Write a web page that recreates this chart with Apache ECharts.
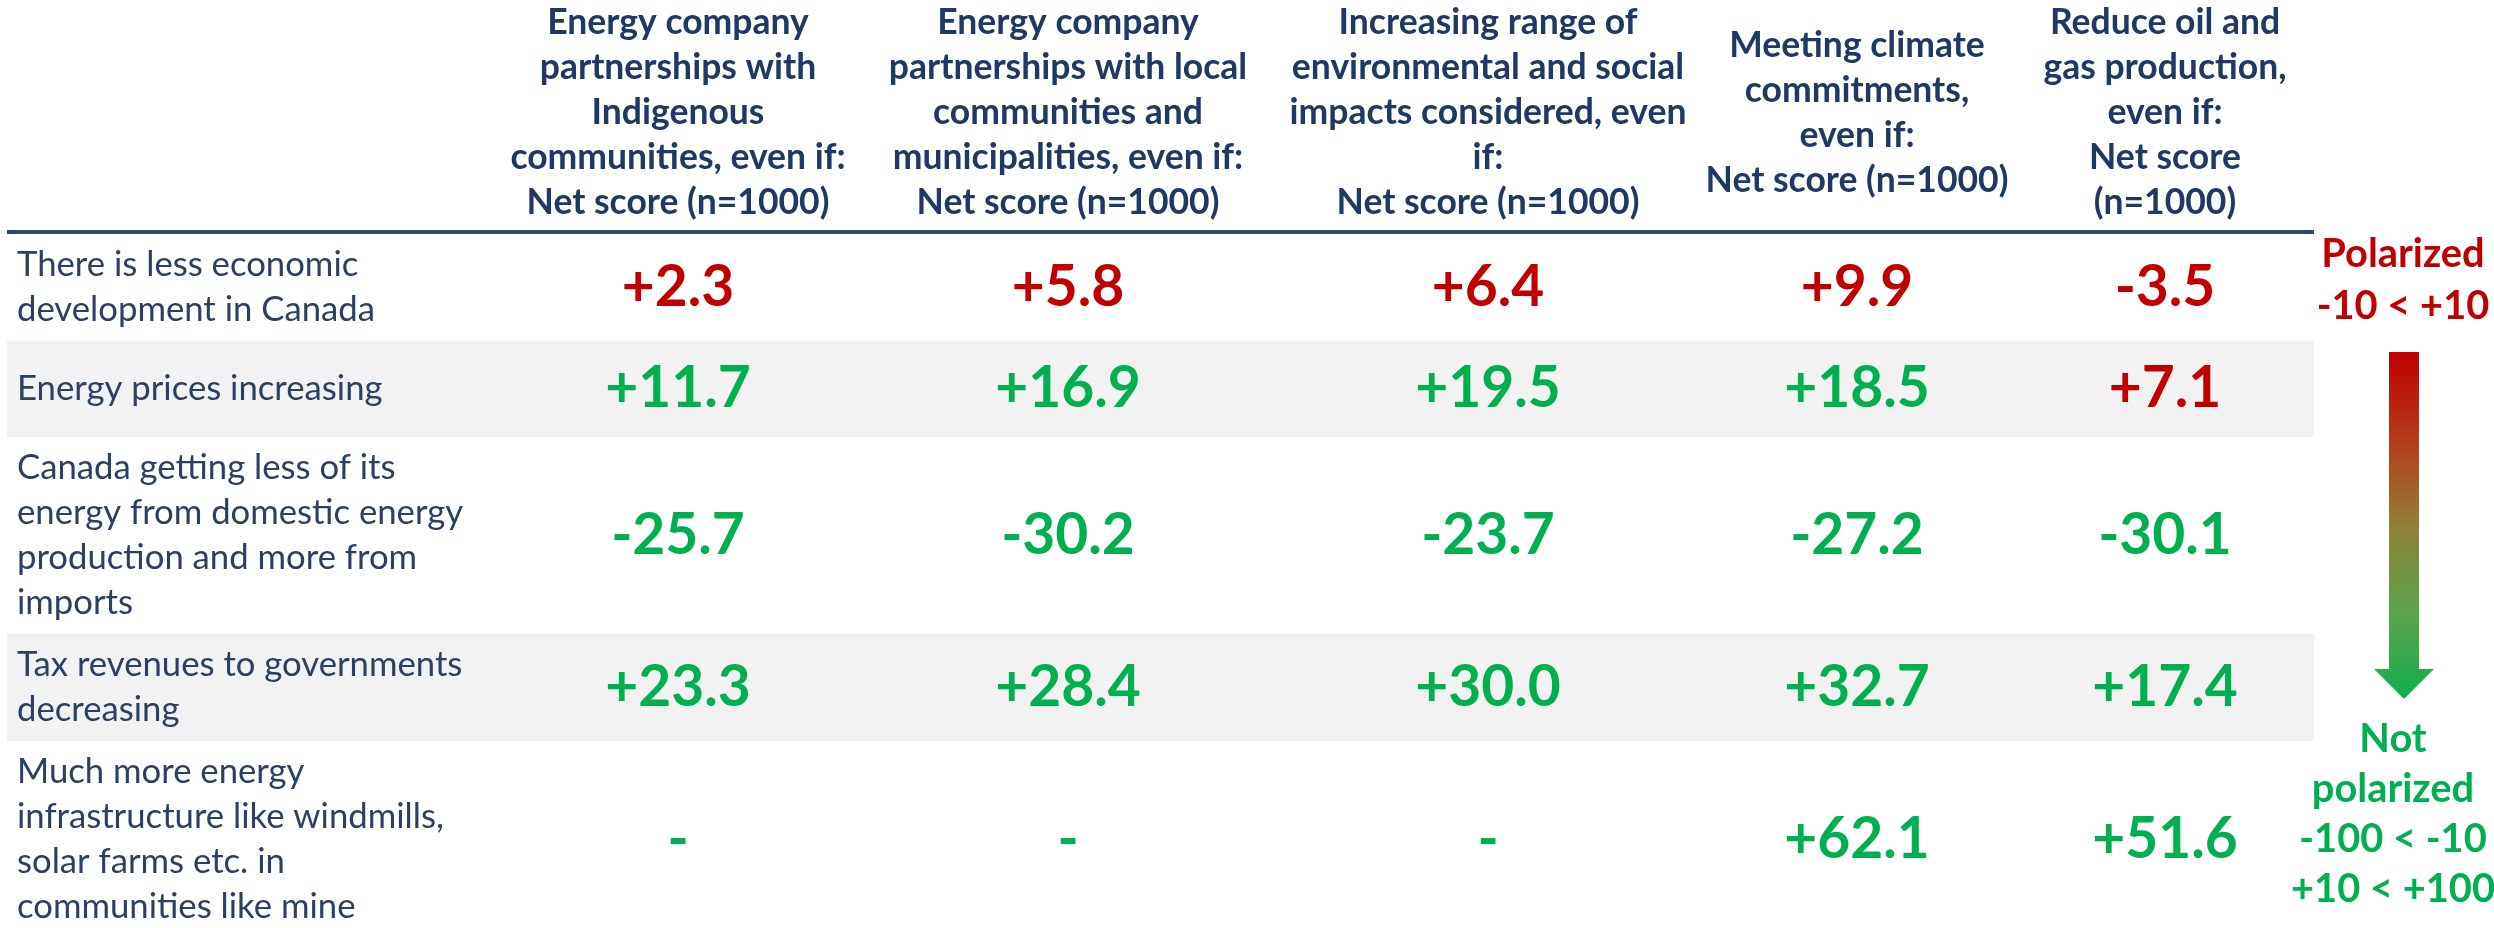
<!DOCTYPE html>
<html>
<head>
<meta charset="utf-8">
<script src="https://cdn.jsdelivr.net/npm/echarts@6/dist/echarts.min.js"></script>
<style>
html,body{margin:0;padding:0;background:#ffffff;}
#chart{width:2494px;height:928px;}
</style>
</head>
<body>
<div id="chart"></div>
<script>
// ---------------- DATA ----------------
const columnHeaders = [
  'Energy company\npartnerships with\nIndigenous\ncommunities, even if:\nNet score (n=1000)',
  'Energy company\npartnerships with local\ncommunities and\nmunicipalities, even if:\nNet score (n=1000)',
  'Increasing range of\nenvironmental and social\nimpacts considered, even\nif:\nNet score (n=1000)',
  'Meeting climate\ncommitments,\neven if:\nNet score (n=1000)',
  'Reduce oil and\ngas production,\neven if:\nNet score\n(n=1000)'
];
const rowLabels = [
  'There is less economic\ndevelopment in Canada',
  'Energy prices increasing',
  'Canada getting less of its\nenergy from domestic energy\nproduction and more from\nimports',
  'Tax revenues to governments\ndecreasing',
  'Much more energy\ninfrastructure like windmills,\nsolar farms etc. in\ncommunities like mine'
];
const indigenousPartnerships = [2.3, 11.7, -25.7, 23.3, null];
const localPartnerships      = [5.8, 16.9, -30.2, 28.4, null];
const environmentalImpacts   = [6.4, 19.5, -23.7, 30.0, null];
const climateCommitments     = [9.9, 18.5, -27.2, 32.7, 62.1];
const reduceOilGas           = [-3.5, 7.1, -30.1, 17.4, 51.6];
const columnValues = [indigenousPartnerships, localPartnerships, environmentalImpacts, climateCommitments, reduceOilGas];
const polarizedLimit = 10;
const legendPolarized = ['Polarized', '-10 < +10'];
const legendNotPolarized = ['Not', 'polarized', '-100 < -10', '+10 < +100'];

// ---------------- LAYOUT / STYLE ----------------
const FONT = 'Lato, "Open Sans", sans-serif';
const RED = '#C00000', GREEN = '#00B050', GRAY = '#F2F2F2';
const HEADER_COLOR = '#1F3864', LABEL_COLOR = '#2B4062', RULE_COLOR = '#2D4A6C';
const colWidths = [491, 360, 420, 420, 318, 298];
const tableLeft = 7;
const headerHeight = 230;
const ruleHeight = 4;
const lineH = 45;
const rowPad = 17;
const minRowHeight = 96;
const canvasH = 928;

// fit font sizes to the measured text widths of the reference
const mctx = document.createElement('canvas').getContext('2d');
function inkWidth(weight, size, text) {
  mctx.font = weight + ' ' + size + 'px ' + FONT;
  const m = mctx.measureText(text);
  if (m.actualBoundingBoxRight !== undefined) return m.actualBoundingBoxLeft + m.actualBoundingBoxRight;
  return m.width;
}
function fitSize(weight, text, target, fallback) {
  const w = inkWidth(weight, 100, text);
  if (!w || !isFinite(w)) return fallback;
  return Math.round(100 * target / w * 10) / 10;
}
const labelSize  = fitSize('normal', 'There is less economic', 340, 35);
const headerSize = fitSize('bold', 'environmental and social', 389, 35);
const valueSize  = Math.min(58, fitSize('bold', '+2.3', 108, 55));
const legendSize = fitSize('bold', 'Polarized', 158, 37);

const tableWidth = colWidths.reduce((a, b) => a + b, 0);
const colEdges = [0];
colWidths.forEach(w => colEdges.push(colEdges[colEdges.length - 1] + w));
const rowEdges = [headerHeight + ruleHeight];
rowLabels.forEach(l => {
  const n = l.split('\n').length;
  rowEdges.push(rowEdges[rowEdges.length - 1] + Math.max(n * lineH + rowPad, minRowHeight));
});

function fmt(v) {
  if (v === null || v === undefined) return '-';
  return (v > 0 ? '+' : '') + v.toFixed(1);
}
function valColor(v) {
  if (v === null || v === undefined) return GREEN;
  return Math.abs(v) < polarizedLimit ? RED : GREEN;
}

const chart = echarts.init(document.getElementById('chart'), null, {renderer: 'canvas'});

const series = [];

// rows: backgrounds, labels, header rule
series.push({
  type: 'custom',
  name: 'rows',
  clip: false,
  silent: true,
  data: rowLabels.map((l, i) => [0, i]),
  renderItem: function (params, api) {
    const i = params.dataIndex;
    const top = rowEdges[i], bot = rowEdges[i + 1];
    const p0 = api.coord([0, top]);
    const p1 = api.coord([tableWidth, bot]);
    const children = [];
    if (i % 2 === 1) {
      children.push({type: 'rect', shape: {x: p0[0], y: p0[1], width: p1[0] - p0[0], height: p1[1] - p0[1]}, style: {fill: GRAY}});
    }
    if (i === 0) {
      const r0 = api.coord([0, headerHeight]);
      const r1 = api.coord([tableWidth, headerHeight + ruleHeight]);
      children.push({type: 'rect', shape: {x: r0[0], y: r0[1], width: r1[0] - r0[0], height: r1[1] - r0[1]}, style: {fill: RULE_COLOR}});
    }
    const t = api.coord([10, (top + bot) / 2]);
    children.push({type: 'text', x: t[0], y: t[1], style: {text: rowLabels[i], fill: LABEL_COLOR, font: labelSize + 'px ' + FONT, align: 'left', verticalAlign: 'middle', lineHeight: lineH}});
    return {type: 'group', children: children};
  }
});

// headers
series.push({
  type: 'custom',
  name: 'headers',
  clip: false,
  silent: true,
  data: columnHeaders.map((h, j) => [j, 0]),
  renderItem: function (params, api) {
    const j = params.dataIndex;
    const cx = colEdges[j + 1] + colWidths[j + 1] / 2;
    const p = api.coord([cx, headerHeight / 2 - 2]);
    return {type: 'text', x: p[0], y: p[1], style: {text: columnHeaders[j], fill: HEADER_COLOR, font: 'bold ' + headerSize + 'px ' + FONT, align: 'center', verticalAlign: 'middle', lineHeight: lineH}};
  }
});

// values, one series per column
columnValues.forEach((vals, j) => {
  series.push({
    type: 'custom',
    name: columnHeaders[j],
    clip: false,
    silent: true,
    data: vals.map((v, i) => [j, i]),
    renderItem: function (params, api) {
      const i = params.dataIndex;
      const v = vals[i];
      const cx = colEdges[j + 1] + colWidths[j + 1] / 2;
      const cy = (rowEdges[i] + rowEdges[i + 1]) / 2;
      const p = api.coord([cx, cy]);
      return {type: 'text', x: p[0], y: p[1], style: {text: fmt(v), fill: valColor(v), font: 'bold ' + valueSize + 'px ' + FONT, align: 'center', verticalAlign: 'middle'}};
    }
  });
});

const option = {
  animation: false,
  grid: {left: tableLeft, top: 0, width: tableWidth, height: canvasH, containLabel: false},
  xAxis: {type: 'value', min: 0, max: tableWidth, show: false},
  yAxis: {type: 'value', min: 0, max: canvasH, inverse: true, show: false},
  series: series,
  graphic: [
    {type: 'text', x: 2403, y: 280, style: {text: legendPolarized.join('\n'), fill: RED, font: 'bold ' + legendSize + 'px ' + FONT, align: 'center', verticalAlign: 'middle', lineHeight: 52}},
    {type: 'polygon',
     shape: {points: [[2389, 352], [2419, 352], [2419, 669], [2434, 669], [2404, 699], [2374, 669], [2389, 669]]},
     style: {fill: new echarts.graphic.LinearGradient(0, 0, 0, 1, [
       {offset: 0, color: '#C00000'},
       {offset: 0.3, color: '#B0461F'},
       {offset: 0.5, color: '#908038'},
       {offset: 0.75, color: '#5CA34A'},
       {offset: 1, color: '#12AF4E'}
     ])}},
    {type: 'text', x: 2393, y: 814, style: {text: legendNotPolarized.join('\n'), fill: GREEN, font: 'bold ' + legendSize + 'px ' + FONT, align: 'center', verticalAlign: 'middle', lineHeight: 50}}
  ]
};
chart.setOption(option);
</script>
</body>
</html>
